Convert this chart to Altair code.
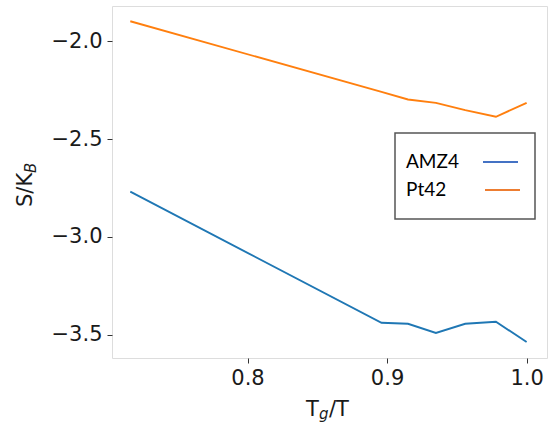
import altair as alt
import pandas as pd

# Data
tg_over_t = [0.716, 0.896, 0.915, 0.935, 0.956, 0.978, 1.0]
amz4 = [-2.769, -3.439, -3.444, -3.491, -3.444, -3.434, -3.537]
pt42 = [-1.898, -2.259, -2.298, -2.315, -2.352, -2.386, -2.315]
series = ["AMZ4", "Pt42"]
line_colors = ["#1f77b4", "#ff7f0e"]
legend_colors = ["#4472C4", "#ED7D31"]
x_ticks = [0.8, 0.9, 1.0]
y_ticks = [-2.0, -2.5, -3.0, -3.5]

rows = []
for name, vals in zip(series, [amz4, pt42]):
    for xv, yv in zip(tg_over_t, vals):
        rows.append({"x": xv, "y": yv, "series": name})
df = pd.DataFrame(rows)

W, H = 435, 352

lines = alt.Chart(df).mark_line(strokeWidth=1.9, clip=True).encode(
    x=alt.X("x:Q",
            scale=alt.Scale(domain=[0.7029, 1.0146], nice=False, zero=False),
            axis=alt.Axis(values=x_ticks, format=".1f", title=None, grid=False,
                          domain=False, tickColor="#333", tickSize=5, tickWidth=1,
                          labelFont="DejaVu Sans", labelFontSize=21, labelColor="#1a1a1a",
                          labelPadding=4)),
    y=alt.Y("y:Q",
            scale=alt.Scale(domain=[-3.619, -1.82], nice=False, zero=False),
            axis=alt.Axis(values=y_ticks, format=".1f", title=None, grid=False,
                          domain=False, tickColor="#333", tickSize=5, tickWidth=1,
                          labelFont="DejaVu Sans", labelFontSize=21, labelColor="#1a1a1a",
                          labelPadding=5)),
    color=alt.Color("series:N", scale=alt.Scale(domain=series, range=line_colors), legend=None),
    detail="series:N",
)

# Legend box (drawn manually)
box = alt.Chart(pd.DataFrame({"a": [0]})).mark_rect(
    fill="white", stroke="#555555", strokeWidth=1.5
).encode(x=alt.value(283), x2=alt.value(423), y=alt.value(127), y2=alt.value(213))

leg_df = pd.DataFrame({"label": series, "color": legend_colors,
                       "ty": [156, 184], "lx1": [371, 373], "lx2": [406, 408]})

leg_text = alt.Chart(leg_df).mark_text(
    align="left", baseline="middle", font="Lato", fontSize=19, color="black"
).encode(x=alt.value(294), y=alt.Y("ty:Q", scale=None), text="label:N")

leg_lines = alt.Chart(leg_df).mark_rule(strokeWidth=2.2).encode(
    x=alt.X("lx1:Q", scale=None), x2="lx2:Q",
    y=alt.Y("ty:Q", scale=None),
    color=alt.Color("color:N", scale=None),
)

# Axis titles with subscripts
def txt(s, x, y, size=21, italic=False, angle=0, align="left"):
    return alt.Chart(pd.DataFrame({"t": [s]})).mark_text(
        align=align, baseline="alphabetic", font="DejaVu Sans", fontSize=size,
        fontStyle="italic" if italic else "normal", color="#1a1a1a", angle=angle
    ).encode(x=alt.value(x), y=alt.value(y), text="t:N")

xt1 = txt("T", 194, 410)
xt2 = txt("g", 207, 413, size=15, italic=True)
xt3 = txt("/T", 217, 410)

yt1 = txt("S/K", -80, 201, angle=270)
yt2 = txt("B", -76, 167, size=15, italic=True, angle=270)

chart = alt.layer(lines, box, leg_lines, leg_text, xt1, xt2, xt3, yt1, yt2).properties(
    width=W, height=H,
    autosize=alt.AutoSizeParams(type="none"),
    padding={"left": 112, "top": 6, "right": 1, "bottom": 69},
).configure_view(stroke="#555555", strokeWidth=1.3).configure(background="white")

chart.save("out.html", embed_options={"renderer": "svg", "actions": False})
